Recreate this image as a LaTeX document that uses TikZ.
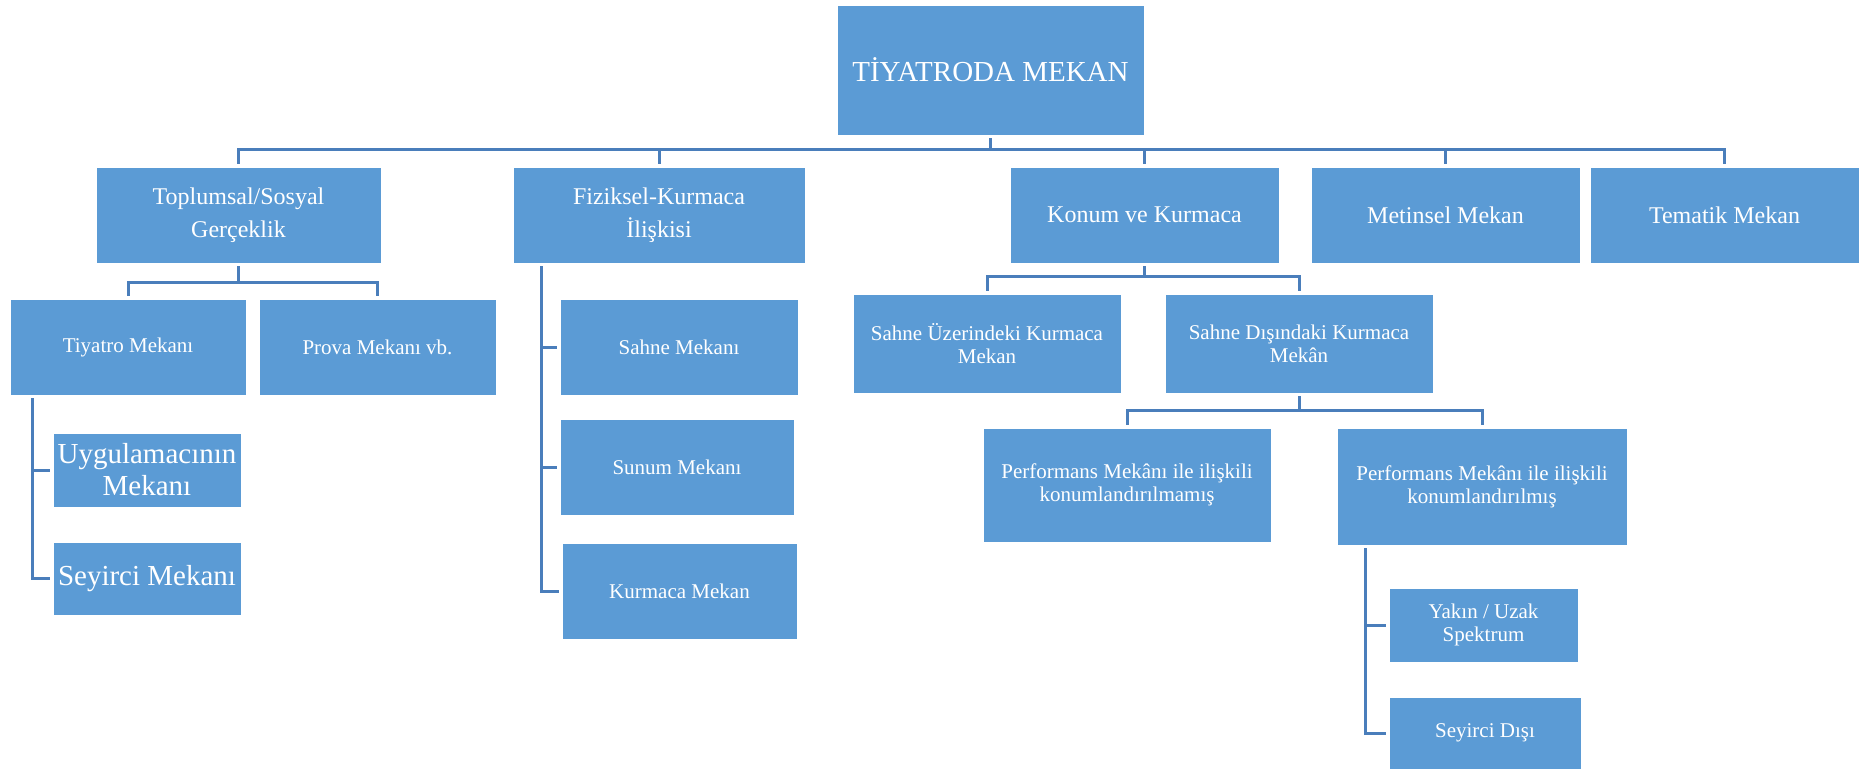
\documentclass[tikz,border=0pt]{standalone}
\usepackage{fontspec}
\setmainfont{Liberation Serif}
\definecolor{boxblue}{HTML}{5B9BD5}
\definecolor{lineblue}{HTML}{4A7EBB}
\begin{document}
\begin{tikzpicture}[
    x=1pt, y=-1pt,
    box/.style={draw=white, line width=0.8pt, fill=boxblue, text=white, align=center, inner sep=0pt, outer sep=3pt},
    rootbox/.style={box, font=\fontsize{29}{34}\selectfont},
    headbox/.style={box, minimum height=96pt, font=\fontsize{24}{33}\selectfont},
    leafbox/.style={box, font=\fontsize{21}{23}\selectfont},
    bigleaf/.style={box, font=\fontsize{29}{32}\selectfont},
    conn/.style={draw=lineblue, line width=3pt}
]
\useasboundingbox (0,0) rectangle (1865,769);

\node[rootbox, minimum width=307pt, minimum height=130pt] (root) at (990.5,70) {TİYATRODA MEKAN};

\node[headbox, minimum width=285pt] (toplumsal) at (238.5,215) {Toplumsal/Sosyal\\Gerçeklik};
\node[headbox, minimum width=292pt] (fiziksel) at (659,215) {Fiziksel-Kurmaca\\İlişkisi};
\node[headbox, minimum width=269pt] (konum) at (1144.5,215) {Konum ve Kurmaca};
\node[headbox, minimum width=269pt] (metinsel) at (1445.5,215) {Metinsel Mekan};
\node[headbox, minimum width=269pt] (tematik) at (1724.5,215) {Tematik Mekan};

\node[leafbox, minimum width=236pt, minimum height=96pt] (tiyatro) at (128,347) {Tiyatro Mekanı};
\node[leafbox, minimum width=237pt, minimum height=96pt] (prova) at (377.5,347) {Prova Mekanı vb.};
\node[bigleaf, minimum width=188pt, minimum height=74pt] (uygulamaci) at (147,470) {Uygulamacının\\Mekanı};
\node[bigleaf, minimum width=188pt, minimum height=73pt] (seyircimekan) at (147,578.5) {Seyirci Mekanı};

\node[leafbox, minimum width=238pt, minimum height=96pt] (sahne) at (679,347) {Sahne Mekanı};
\node[leafbox, minimum width=234pt, minimum height=96pt] (sunum) at (677,467) {Sunum Mekanı};
\node[leafbox, minimum width=235pt, minimum height=96pt] (kurmaca) at (679.5,591) {Kurmaca Mekan};

\node[leafbox, minimum width=268pt, minimum height=99pt] (uzerinde) at (987,343.5) {Sahne Üzerindeki Kurmaca\\Mekan};
\node[leafbox, minimum width=268pt, minimum height=99pt] (disinda) at (1299,343.5) {Sahne Dışındaki Kurmaca\\Mekân};
\node[leafbox, minimum width=288pt, minimum height=114pt] (konsuz) at (1127,485) {Performans Mekânı ile ilişkili\\konumlandırılmamış};
\node[leafbox, minimum width=290pt, minimum height=117pt] (konlu) at (1482,486.5) {Performans Mekânı ile ilişkili\\konumlandırılmış};
\node[leafbox, minimum width=189pt, minimum height=74pt] (yakin) at (1483.5,625) {Yakın / Uzak\\Spektrum};
\node[leafbox, minimum width=192pt, minimum height=72pt] (seyircidisi) at (1485,733) {Seyirci Dışı};

\path (root.south) ++(0,11) coordinate (rootbus);
\foreach \c in {toplumsal,fiziksel,konum,metinsel,tematik}
    \draw[conn] (root.south) |- (rootbus -| \c.north) -- (\c.north);

\path (toplumsal.south) ++(0,16) coordinate (topbus);
\foreach \c in {tiyatro,prova}
    \draw[conn] (toplumsal.south) |- (topbus -| \c.north) -- (\c.north);

\path (konum.south) ++(0,10) coordinate (konbus);
\foreach \c in {uzerinde,disinda}
    \draw[conn] (konum.south) |- (konbus -| \c.north) -- (\c.north);

\path (disinda.south) ++(0,14) coordinate (disbus);
\foreach \c in {konsuz,konlu}
    \draw[conn] (disinda.south) |- (disbus -| \c.north) -- (\c.north);

\coordinate (tiyrail) at (32,0);
\foreach \c in {uygulamaci,seyircimekan}
    \draw[conn] (tiyatro.south -| tiyrail) |- (\c.west);

\coordinate (fizrail) at (541,0);
\foreach \c in {sahne,sunum,kurmaca}
    \draw[conn] (fiziksel.south -| fizrail) |- (\c.west);

\coordinate (konrail) at (1365,0);
\foreach \c in {yakin,seyircidisi}
    \draw[conn] (konlu.south -| konrail) |- (\c.west);
\end{tikzpicture}
\end{document}
